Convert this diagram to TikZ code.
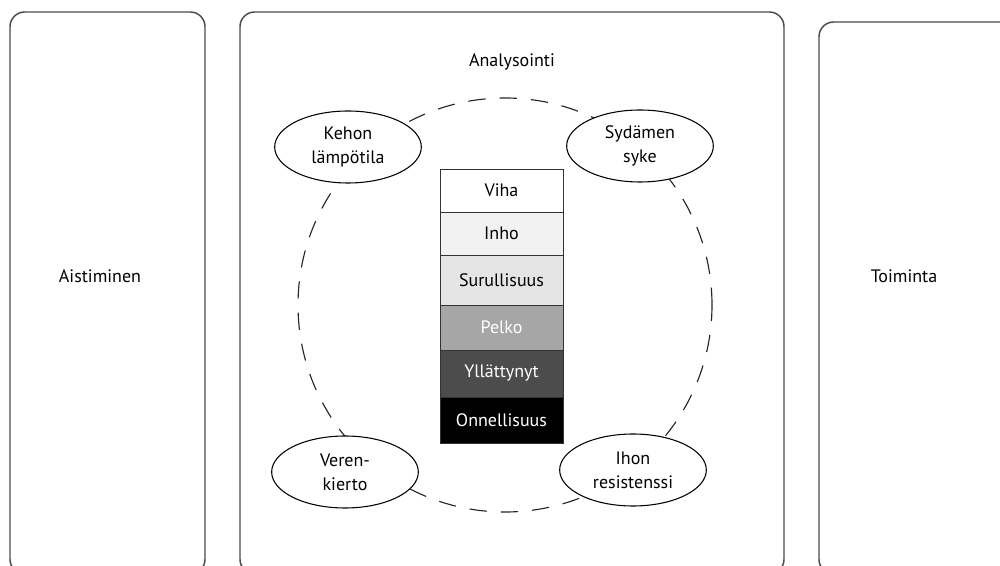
\documentclass[tikz,border=0pt]{standalone}
\usepackage{fontspec}
\setmainfont{PT Sans}
\usetikzlibrary{shapes.geometric}
\begin{document}
\begin{tikzpicture}[x=0.75pt,y=-0.75pt,
  lbl/.style={font=\fontsize{13.5}{18}\selectfont, align=center, inner sep=0pt},
  panel/.style={draw=black!70, line width=1.1pt, rounded corners=11pt},
  sensor/.style={ellipse, draw=black, line width=0.8pt, fill=white, inner sep=0pt,
     minimum width=110pt, minimum height=54pt, align=center, font=\fontsize{13.5}{18}\selectfont},
  cell/.style={rectangle, draw=black!80, line width=0.6pt, minimum width=92.25pt, inner sep=0pt,
     align=center, font=\fontsize{13.5}{18}\selectfont},
  ring/.style={draw=black!85, line width=0.85pt, dash pattern=on 13pt off 10.5pt}
]
\useasboundingbox (0,0) rectangle (1000,566);
\clip (0,0) rectangle (1000,566);
\fill[white] (0,0) rectangle (1000,566);

% panels
\draw[panel] (10,12) rectangle (205,574);
\draw[panel] (240,12) rectangle (784,574);
\draw[panel] (819,22) rectangle (1030,574);

\node[lbl] (aist) at (100,276) {Aistiminen};
\node[lbl] (toim) at (904,276) {Toiminta};
\node[lbl] (anal) at (512,62) {Analysointi};

% dashed ring
\coordinate (rc) at (505,305);
\draw[ring] (rc) circle[radius=155.25pt];

% sensors
\node[sensor] (keho) at (348,147) {Kehon\\lämpötila};
\node[sensor] (syda) at (640,146) {Sydämen\\syke};
\node[sensor] (vere) at (345,472) {Veren-\\kierto};
\node[sensor] (ihon) at (633,470) {Ihon\\resistenssi};

% emotion stack
\node[cell, fill=white, minimum height=32.25pt] (viha) at (501.5,190.5) {Viha};
\node[cell, fill=black!5, minimum height=32.25pt] (inho) at (501.5,233.5) {Inho};
\node[cell, fill=black!10, minimum height=37.5pt] (suru) at (501.5,280) {Surullisuus};
\node[cell, fill=black!35, text=white, minimum height=33.75pt] (pelk) at (501.5,327.5) {Pelko};
\node[cell, fill=black!70, text=white, minimum height=35.25pt] (yllt) at (501.5,373.5) {Yllättynyt};
\node[cell, fill=black, text=white, minimum height=34.5pt] (onne) at (501.5,420) {Onnellisuus};
\end{tikzpicture}
\end{document}
